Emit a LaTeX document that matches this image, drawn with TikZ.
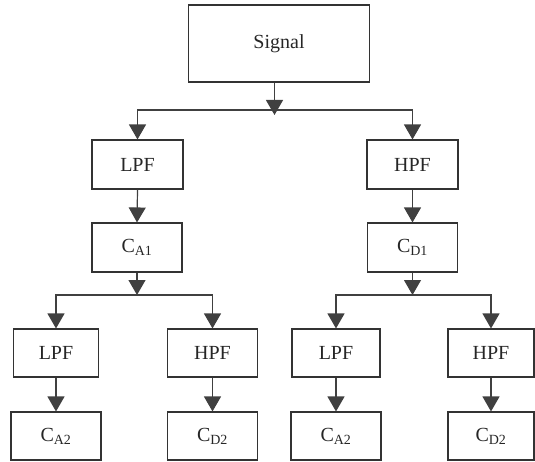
\documentclass[tikz,border=0pt]{standalone}
\usepackage{fontspec}
\setmainfont{Liberation Serif}
\usetikzlibrary{arrows.meta}
\begin{document}
\begin{tikzpicture}[x=1pt,y=-1pt,
  box/.style={draw=black!80, line width=1.1pt, minimum width=90pt, minimum height=48pt,
              inner sep=0pt, font=\fontsize{20}{23}\selectfont, text=black!85},
  conn/.style={draw=black!75, line width=1.2pt},
  arr/.style={conn, -{Triangle[length=15pt,width=17pt]}}]
\useasboundingbox (0,0) rectangle (535,462);
% top
\node[box, minimum width=181pt, minimum height=77pt] (sig) at (279,43.5) {Signal};
\coordinate (j0) at (274.5,110);
\coordinate (s0) at (274.5,115);
% level 1
\node[box, minimum width=91pt, minimum height=49pt] (lpf1) at (137.5,164.5) {LPF};
\node[box, minimum width=91pt, minimum height=49pt] (hpf1) at (412.5,164.5) {HPF};
\node[box, minimum height=49pt] (ca1) at (137,247.5) {C\textsubscript{A1}};
\node[box, minimum height=49pt] (cd1) at (412.5,247.5) {C\textsubscript{D1}};
\coordinate (j1) at (137,295);
\coordinate (j2) at (412.5,295);
% level 2
\node[box, minimum width=85pt] (lpf2a) at (56,353) {LPF};
\node[box] (hpf2a) at (212.5,353) {HPF};
\node[box, minimum width=88pt] (lpf2b) at (336,353) {LPF};
\node[box, minimum width=86pt] (hpf2b) at (491,353) {HPF};
\node[box] (ca2a) at (56,436) {C\textsubscript{A2}};
\node[box] (cd2a) at (212.5,436) {C\textsubscript{D2}};
\node[box] (ca2b) at (336,436) {C\textsubscript{A2}};
\node[box, minimum width=86pt] (cd2b) at (491,436) {C\textsubscript{D2}};
% connectors
\draw[arr] (sig.south -| s0) -- (s0);
\draw[arr] (j0) -| (lpf1.north);
\draw[arr] (j0) -| (hpf1.north);
\draw[arr] (lpf1.south) -- (ca1.north);
\draw[arr] (hpf1.south) -- (cd1.north);
\draw[arr] (ca1.south) -- (j1);
\draw[arr] (cd1.south) -- (j2);
\draw[arr] (j1) -| (lpf2a.north);
\draw[arr] (j1) -| (hpf2a.north);
\draw[arr] (j2) -| (lpf2b.north);
\draw[arr] (j2) -| (hpf2b.north);
\draw[arr] (lpf2a.south) -- (ca2a.north);
\draw[arr] (hpf2a.south) -- (cd2a.north);
\draw[arr] (lpf2b.south) -- (ca2b.north);
\draw[arr] (hpf2b.south) -- (cd2b.north);
\end{tikzpicture}
\end{document}
